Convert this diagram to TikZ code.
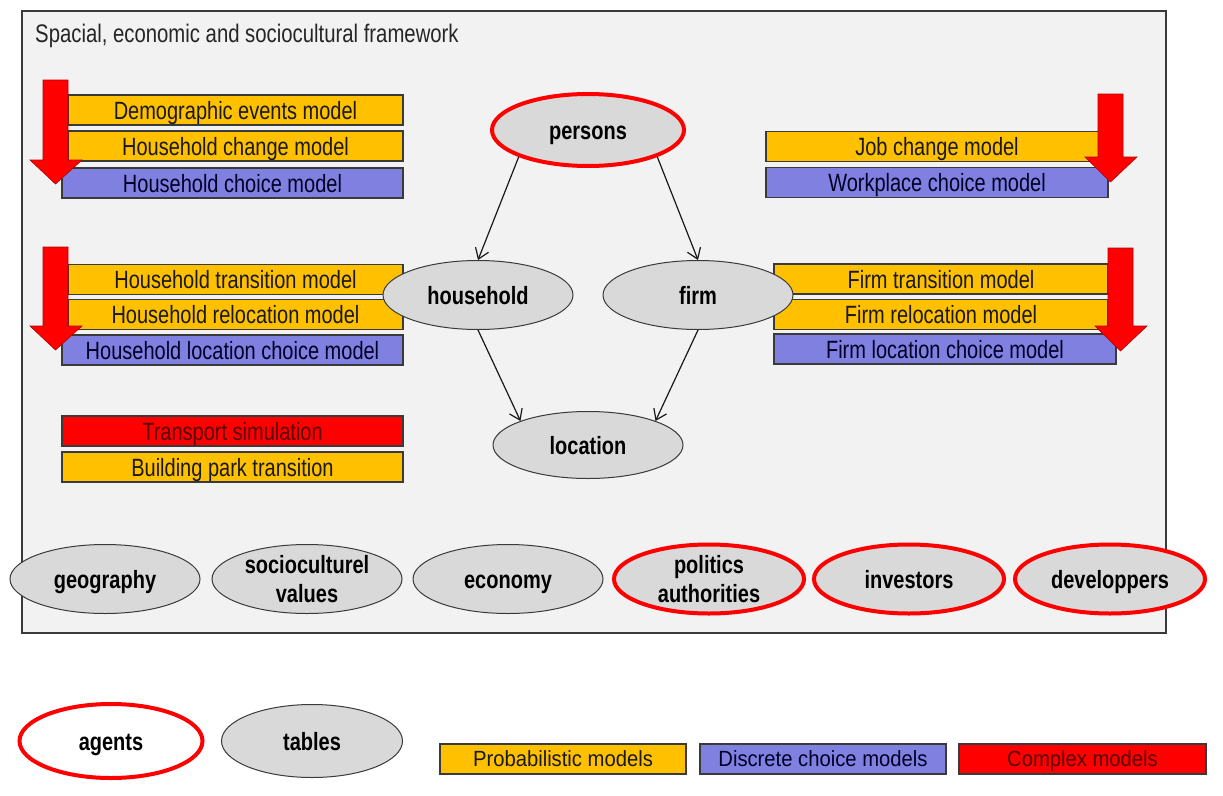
\documentclass[tikz,border=0pt]{standalone}
\usepackage{fontspec}
\setmainfont{Liberation Sans}[FakeStretch=0.8]
\newfontfamily\legendfont{Liberation Sans}[FakeStretch=0.92]
\usepackage{tikz}
\usetikzlibrary{arrows.meta,shapes.geometric}

\definecolor{probcol}{HTML}{FFC000}
\definecolor{choicecol}{HTML}{8080E0}
\definecolor{complexcol}{HTML}{FF0000}
\definecolor{tablecol}{HTML}{D9D9D9}
\definecolor{framecol}{HTML}{F2F2F2}
\definecolor{edgecol}{HTML}{3A3A3A}

\tikzset{
  modelbox/.style={rectangle,draw=edgecol,line width=1.3pt,inner sep=0pt,
    minimum height=30pt,text height=18pt,text depth=0pt,font=\fontsize{25}{28}\selectfont},
  probbox/.style={modelbox,fill=probcol,text=black!90},
  choicebox/.style={modelbox,fill=choicecol,text=blue!15!black},
  complexbox/.style={modelbox,fill=complexcol,text=red!35!black},
  legendbox/.style={text height=15.5pt,font=\legendfont\fontsize{22}{26}\selectfont},
  tablenode/.style={ellipse,draw=edgecol,line width=1pt,fill=tablecol,inner sep=0pt,
    minimum width=190pt,minimum height=69pt,align=center,text height=18pt,text depth=0pt,
    font=\fontsize{25}{29}\selectfont\bfseries},
  twolines/.style={text height=,text depth=},
  agentnode/.style={tablenode,draw=complexcol,line width=4pt},
  bigarrow/.style={fill=complexcol,draw=red!70!black,line width=0.6pt},
  link/.style={->,draw=black!90,line width=1.2pt}
}

\begin{document}
\begin{tikzpicture}[x=1pt,y=-1pt,>={Straight Barb[length=10pt,width=14pt]}]
\useasboundingbox[fill=white] (0,0) rectangle (1223,795);
% framework
\draw[fill=framecol,draw=edgecol,line width=1.3pt] (22,11) rectangle (1166,633);
\node[anchor=base west,inner sep=0pt,font=\fontsize{25.4}{28}\selectfont,text=black!85] (title) at (35,42) {Spacial, economic and sociocultural framework};

% household side
\node[probbox,minimum width=335pt] (demog) at (235.5,110) {Demographic events model};
\node[probbox,minimum width=335pt] (hhchange) at (235.5,146) {Household change model};
\node[choicebox,minimum width=341pt] (hhchoice) at (232.5,183) {Household choice model};
\node[probbox,minimum width=335pt] (hhtrans) at (235.5,279.5) {Household transition model};
\node[probbox,minimum width=335pt] (hhreloc) at (235.5,314.5) {Household relocation model};
\node[choicebox,minimum width=341pt] (hhloc) at (232.5,350) {Household location choice model};
\node[complexbox,minimum width=341pt] (transport) at (232.5,431) {Transport simulation};
\node[probbox,minimum width=341pt] (building) at (232.5,467) {Building park transition};

% firm side
\node[probbox,minimum width=342pt] (jobchange) at (937,146.5) {Job change model};
\node[choicebox,minimum width=342pt] (workplace) at (937,182.5) {Workplace choice model};
\node[probbox,minimum width=334pt] (firmtrans) at (941,279) {Firm transition model};
\node[probbox,minimum width=334pt] (firmreloc) at (941,314.5) {Firm relocation model};
\node[choicebox,minimum width=342pt] (firmloc) at (945,349) {Firm location choice model};

% red arrows
\foreach \l/\r/\t/\b/\hl/\hr/\e in {43/68/80/160/30/82/184, 43/68/247/326/30/82/350,
    1098/1123/94/157/1085/1137/182, 1108/1133/248/326/1095/1147/351}
  \draw[bigarrow] (\l,\t) -- (\r,\t) -- (\r,\b) -- (\hr,\b) -- ({(\l+\r)/2},\e)
    -- (\hl,\b) -- (\l,\b) -- cycle;

% agents and tables
\node[agentnode,minimum width=192pt,minimum height=72pt] (persons) at (588,130) {persons};
\node[tablenode] (household) at (478,295) {household};
\node[tablenode] (firm) at (698,295) {firm};
\node[tablenode,minimum height=67pt] (location) at (588,445) {location};

\draw[link] (persons.south west) -- (household.north);
\draw[link] (persons.south east) -- (firm.north);
\draw[link] (household.south) -- (location.north west);
\draw[link] (firm.south) -- (location.north east);

\node[tablenode] (geography) at (105,579) {geography};
\node[tablenode,twolines] (sociocult) at (307,579) {socioculturel\\values};
\node[tablenode] (economy) at (508,579) {economy};
\node[agentnode,twolines] (politics) at (709,579) {politics\\authorities};
\node[agentnode] (investors) at (909,579) {investors};
\node[agentnode] (developpers) at (1110,579) {developpers};

% legend
\node[agentnode,fill=white,minimum width=183pt,minimum height=74pt] (agents) at (111,741) {agents};
\node[tablenode,minimum width=181pt,minimum height=73pt] (tables) at (312,741) {tables};
\node[probbox,legendbox,minimum width=246pt] (legprob) at (563,759) {Probabilistic models};
\node[choicebox,legendbox,minimum width=246pt] (legchoice) at (823,759) {Discrete choice models};
\node[complexbox,legendbox,minimum width=247pt] (legcomplex) at (1082.5,759) {Complex models};
\end{tikzpicture}
\end{document}
